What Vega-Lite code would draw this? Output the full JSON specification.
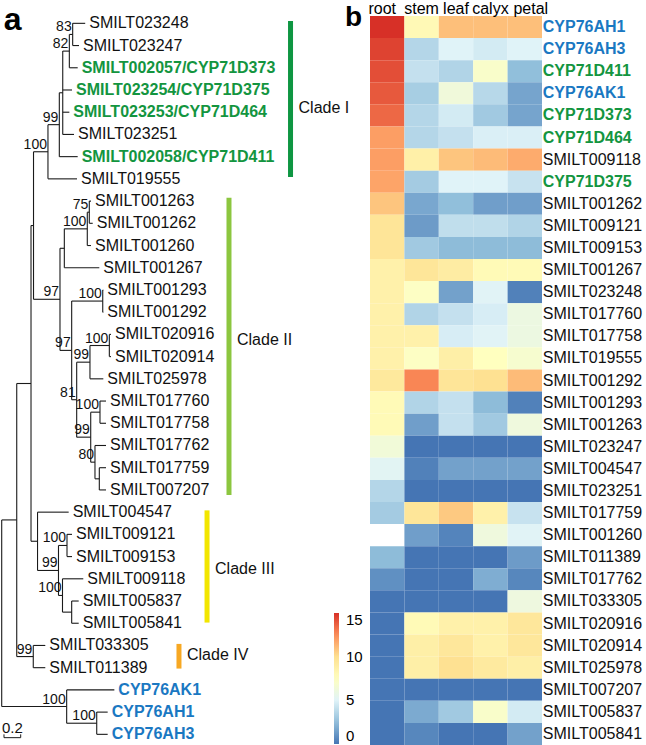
{
"$schema":"https://vega.github.io/schema/vega-lite/v6.json",
"padding":0,
"bounds":"flush",
"spacing":70,
"config":{"font":"Liberation Sans","view":{"stroke":null}},
"resolve":{"scale":{"color":"independent"},"legend":{"color":"independent"}},
"datasets":{
"branches":[
{"x":0,"x2":0,"y":22.35,"y2":30.75},{"x":0,"x2":0.18,"y":22.35,"y2":22.35},{"x":0,"x2":0.778,"y":30.75,"y2":30.75},
{"x":0.18,"x2":0.18,"y":16.21,"y2":28.5},{"x":0.18,"x2":0.351,"y":16.21,"y2":16.21},{"x":0.18,"x2":0.378,"y":28.5,"y2":28.5},
{"x":0.351,"x2":0.351,"y":9.1,"y2":23.31},{"x":0.351,"x2":0.381,"y":9.1,"y2":9.1},{"x":0.351,"x2":0.429,"y":23.31,"y2":23.31},
{"x":0.381,"x2":0.381,"y":5.78,"y2":12.42},{"x":0.381,"x2":0.554,"y":5.78,"y2":5.78},{"x":0.381,"x2":0.698,"y":12.42,"y2":12.42},
{"x":0.554,"x2":0.554,"y":4.56,"y2":7},{"x":0.554,"x2":0.69,"y":4.56,"y2":4.56},{"x":0.554,"x2":0.902,"y":7,"y2":7},
{"x":0.69,"x2":0.69,"y":3.125,"y2":6},{"x":0.69,"x2":0.731,"y":3.125,"y2":3.125},{"x":0.69,"x2":0.91,"y":6,"y2":6},
{"x":0.731,"x2":0.731,"y":1.25,"y2":5},{"x":0.731,"x2":0.81,"y":1.25,"y2":1.25},{"x":0.731,"x2":0.842,"y":3,"y2":3},{"x":0.731,"x2":0.81,"y":4,"y2":4},{"x":0.731,"x2":0.866,"y":5,"y2":5},
{"x":0.81,"x2":0.81,"y":0.5,"y2":2},{"x":0.81,"x2":0.85,"y":0.5,"y2":0.5},{"x":0.81,"x2":0.91,"y":2,"y2":2},
{"x":0.85,"x2":0.85,"y":0,"y2":1},{"x":0.85,"x2":1.0,"y":0,"y2":0},{"x":0.85,"x2":0.926,"y":1,"y2":1},
{"x":0.698,"x2":0.698,"y":10.125,"y2":14.72},{"x":0.698,"x2":0.75,"y":10.125,"y2":10.125},{"x":0.698,"x2":0.838,"y":14.72,"y2":14.72},
{"x":0.75,"x2":0.75,"y":9.25,"y2":11},{"x":0.75,"x2":1.025,"y":9.25,"y2":9.25},{"x":0.75,"x2":1.169,"y":11,"y2":11},
{"x":1.025,"x2":1.025,"y":8.5,"y2":10},{"x":1.025,"x2":1.049,"y":8.5,"y2":8.5},{"x":1.025,"x2":1.069,"y":10,"y2":10},
{"x":1.049,"x2":1.049,"y":8,"y2":9},{"x":1.049,"x2":1.069,"y":8,"y2":8},{"x":1.049,"x2":1.09,"y":9,"y2":9},
{"x":0.838,"x2":0.838,"y":12.5,"y2":16.94},{"x":0.838,"x2":1.21,"y":12.5,"y2":12.5},{"x":0.838,"x2":0.898,"y":16.94,"y2":16.94},
{"x":1.21,"x2":1.21,"y":12,"y2":13},{"x":1.21,"x2":1.217,"y":12,"y2":12},{"x":1.21,"x2":1.217,"y":13,"y2":13},
{"x":0.898,"x2":0.898,"y":15.25,"y2":18.625},{"x":0.898,"x2":1.057,"y":15.25,"y2":15.25},{"x":0.898,"x2":1.066,"y":18.625,"y2":18.625},
{"x":1.057,"x2":1.057,"y":14.5,"y2":16},{"x":1.057,"x2":1.289,"y":14.5,"y2":14.5},{"x":1.057,"x2":1.217,"y":16,"y2":16},
{"x":1.289,"x2":1.289,"y":14,"y2":15},{"x":1.289,"x2":1.309,"y":14,"y2":14},{"x":1.289,"x2":1.309,"y":15,"y2":15},
{"x":1.066,"x2":1.066,"y":17.5,"y2":19.75},{"x":1.066,"x2":1.177,"y":17.5,"y2":17.5},{"x":1.066,"x2":1.117,"y":19.75,"y2":19.75},
{"x":1.177,"x2":1.177,"y":17,"y2":18},{"x":1.177,"x2":1.249,"y":17,"y2":17},{"x":1.177,"x2":1.249,"y":18,"y2":18},
{"x":1.117,"x2":1.117,"y":19,"y2":20.5},{"x":1.117,"x2":1.249,"y":19,"y2":19},{"x":1.117,"x2":1.169,"y":20.5,"y2":20.5},
{"x":1.169,"x2":1.169,"y":20,"y2":21},{"x":1.169,"x2":1.249,"y":20,"y2":20},{"x":1.169,"x2":1.249,"y":21,"y2":21},
{"x":0.429,"x2":0.429,"y":22,"y2":24.625},{"x":0.429,"x2":0.802,"y":22,"y2":22},{"x":0.429,"x2":0.68,"y":24.625,"y2":24.625},
{"x":0.68,"x2":0.68,"y":23.5,"y2":25.75},{"x":0.68,"x2":0.782,"y":23.5,"y2":23.5},{"x":0.68,"x2":0.728,"y":25.75,"y2":25.75},
{"x":0.782,"x2":0.782,"y":23,"y2":24},{"x":0.782,"x2":0.842,"y":23,"y2":23},{"x":0.782,"x2":0.842,"y":24,"y2":24},
{"x":0.728,"x2":0.728,"y":25,"y2":26.5},{"x":0.728,"x2":0.977,"y":25,"y2":25},{"x":0.728,"x2":0.838,"y":26.5,"y2":26.5},
{"x":0.838,"x2":0.838,"y":26,"y2":27},{"x":0.838,"x2":0.922,"y":26,"y2":26},{"x":0.838,"x2":0.922,"y":27,"y2":27},
{"x":0.378,"x2":0.378,"y":28,"y2":29},{"x":0.378,"x2":0.522,"y":28,"y2":28},{"x":0.378,"x2":0.522,"y":29,"y2":29},
{"x":0.778,"x2":0.778,"y":30,"y2":31.5},{"x":0.778,"x2":1.349,"y":30,"y2":30},{"x":0.778,"x2":1.138,"y":31.5,"y2":31.5},
{"x":1.138,"x2":1.138,"y":31,"y2":32},{"x":1.138,"x2":1.269,"y":31,"y2":31},{"x":1.138,"x2":1.269,"y":32,"y2":32}
],
"tips":[
{"name":"SMILT023248","x":1.0,"y":0},{"name":"SMILT023247","x":0.926,"y":1},
{"name":"SMILT002057/CYP71D373","x":0.91,"y":2},{"name":"SMILT023254/CYP71D375","x":0.842,"y":3},
{"name":"SMILT023253/CYP71D464","x":0.81,"y":4},{"name":"SMILT023251","x":0.866,"y":5},
{"name":"SMILT002058/CYP71D411","x":0.91,"y":6},{"name":"SMILT019555","x":0.902,"y":7},
{"name":"SMILT001263","x":1.069,"y":8},{"name":"SMILT001262","x":1.09,"y":9},
{"name":"SMILT001260","x":1.069,"y":10},{"name":"SMILT001267","x":1.169,"y":11},
{"name":"SMILT001293","x":1.217,"y":12},{"name":"SMILT001292","x":1.217,"y":13},
{"name":"SMILT020916","x":1.309,"y":14},{"name":"SMILT020914","x":1.309,"y":15},
{"name":"SMILT025978","x":1.217,"y":16},{"name":"SMILT017760","x":1.249,"y":17},
{"name":"SMILT017758","x":1.249,"y":18},{"name":"SMILT017762","x":1.249,"y":19},
{"name":"SMILT017759","x":1.249,"y":20},{"name":"SMILT007207","x":1.249,"y":21},
{"name":"SMILT004547","x":0.802,"y":22},{"name":"SMILT009121","x":0.842,"y":23},
{"name":"SMILT009153","x":0.842,"y":24},{"name":"SMILT009118","x":0.977,"y":25},
{"name":"SMILT005837","x":0.922,"y":26},{"name":"SMILT005841","x":0.922,"y":27},
{"name":"SMILT033305","x":0.522,"y":28},{"name":"SMILT011389","x":0.522,"y":29},
{"name":"CYP76AK1","x":1.349,"y":30},{"name":"CYP76AH1","x":1.269,"y":31},{"name":"CYP76AH3","x":1.269,"y":32}
],
"boot":[
{"x":0.85,"y":0.5,"t":"83"},{"x":0.81,"y":1.25,"t":"82"},{"x":0.69,"y":4.5625,"t":"99"},{"x":0.554,"y":5.78,"t":"100"},
{"x":1.049,"y":8.5,"t":"75"},{"x":1.025,"y":9.25,"t":"100"},{"x":0.698,"y":12.42,"t":"97"},{"x":1.21,"y":12.5,"t":"100"},
{"x":1.289,"y":14.5,"t":"100"},{"x":1.057,"y":15.25,"t":"99"},{"x":0.838,"y":14.72,"t":"97"},{"x":0.898,"y":16.94,"t":"81"},
{"x":1.066,"y":18.625,"t":"99"},{"x":1.177,"y":17.5,"t":"100"},{"x":1.117,"y":19.75,"t":"80"},
{"x":0.68,"y":24.625,"t":"99"},{"x":0.782,"y":23.5,"t":"100"},{"x":0.728,"y":25.75,"t":"100"},
{"x":0.378,"y":28.5,"t":"99"},{"x":0.778,"y":30.75,"t":"100"},{"x":1.138,"y":31.5,"t":"100"}
],
"clades":[
{"clade":"Clade I","x":3.459,"y":-0.1,"y2":6.92,"ly":3.81},
{"clade":"Clade II","x":2.722,"y":7.85,"y2":21.23,"ly":14.25},
{"clade":"Clade III","x":2.459,"y":21.92,"y2":26.97,"ly":24.57},
{"clade":"Clade IV","x":2.123,"y":27.93,"y2":29.04,"ly":28.43}
],
"heat":[
{"gene":"CYP76AH1","tissue":"root","value":15},{"gene":"CYP76AH1","tissue":"stem","value":8},{"gene":"CYP76AH1","tissue":"leaf","value":11},{"gene":"CYP76AH1","tissue":"calyx","value":11},{"gene":"CYP76AH1","tissue":"petal","value":11},
{"gene":"CYP76AH3","tissue":"root","value":14.5},{"gene":"CYP76AH3","tissue":"stem","value":3.6},{"gene":"CYP76AH3","tissue":"leaf","value":5},{"gene":"CYP76AH3","tissue":"calyx","value":4.6},{"gene":"CYP76AH3","tissue":"petal","value":5},
{"gene":"CYP71D411","tissue":"root","value":14.2},{"gene":"CYP71D411","tissue":"stem","value":4.1},{"gene":"CYP71D411","tissue":"leaf","value":3.5},{"gene":"CYP71D411","tissue":"calyx","value":7},{"gene":"CYP71D411","tissue":"petal","value":2.5},
{"gene":"CYP76AK1","tissue":"root","value":13.9},{"gene":"CYP76AK1","tissue":"stem","value":3.2},{"gene":"CYP76AK1","tissue":"leaf","value":6.3},{"gene":"CYP76AK1","tissue":"calyx","value":3.7},{"gene":"CYP76AK1","tissue":"petal","value":1.6},
{"gene":"CYP71D373","tissue":"root","value":13.5},{"gene":"CYP71D373","tissue":"stem","value":3.6},{"gene":"CYP71D373","tissue":"leaf","value":4.6},{"gene":"CYP71D373","tissue":"calyx","value":3},{"gene":"CYP71D373","tissue":"petal","value":1.6},
{"gene":"CYP71D464","tissue":"root","value":12},{"gene":"CYP71D464","tissue":"stem","value":3.6},{"gene":"CYP71D464","tissue":"leaf","value":4.1},{"gene":"CYP71D464","tissue":"calyx","value":4.8},{"gene":"CYP71D464","tissue":"petal","value":4.8},
{"gene":"SMILT009118","tissue":"root","value":12},{"gene":"SMILT009118","tissue":"stem","value":8.7},{"gene":"SMILT009118","tissue":"leaf","value":10.8},{"gene":"SMILT009118","tissue":"calyx","value":11.1},{"gene":"SMILT009118","tissue":"petal","value":11.6},
{"gene":"CYP71D375","tissue":"root","value":11.8},{"gene":"CYP71D375","tissue":"stem","value":3.1},{"gene":"CYP71D375","tissue":"leaf","value":5},{"gene":"CYP71D375","tissue":"calyx","value":5},{"gene":"CYP71D375","tissue":"petal","value":4.2},
{"gene":"SMILT001262","tissue":"root","value":10.8},{"gene":"SMILT001262","tissue":"stem","value":1.7},{"gene":"SMILT001262","tissue":"leaf","value":2.5},{"gene":"SMILT001262","tissue":"calyx","value":1.4},{"gene":"SMILT001262","tissue":"petal","value":1.4},
{"gene":"SMILT009121","tissue":"root","value":9.6},{"gene":"SMILT009121","tissue":"stem","value":1.3},{"gene":"SMILT009121","tissue":"leaf","value":4},{"gene":"SMILT009121","tissue":"calyx","value":4},{"gene":"SMILT009121","tissue":"petal","value":3.5},
{"gene":"SMILT009153","tissue":"root","value":9.6},{"gene":"SMILT009153","tissue":"stem","value":3},{"gene":"SMILT009153","tissue":"leaf","value":2.4},{"gene":"SMILT009153","tissue":"calyx","value":2.4},{"gene":"SMILT009153","tissue":"petal","value":2.4},
{"gene":"SMILT001267","tissue":"root","value":8.6},{"gene":"SMILT001267","tissue":"stem","value":9.5},{"gene":"SMILT001267","tissue":"leaf","value":9},{"gene":"SMILT001267","tissue":"calyx","value":7.9},{"gene":"SMILT001267","tissue":"petal","value":7.9},
{"gene":"SMILT023248","tissue":"root","value":8.6},{"gene":"SMILT023248","tissue":"stem","value":7.3},{"gene":"SMILT023248","tissue":"leaf","value":1.5},{"gene":"SMILT023248","tissue":"calyx","value":5.1},{"gene":"SMILT023248","tissue":"petal","value":0.4},
{"gene":"SMILT017760","tissue":"root","value":8.6},{"gene":"SMILT017760","tissue":"stem","value":3.5},{"gene":"SMILT017760","tissue":"leaf","value":4.1},{"gene":"SMILT017760","tissue":"calyx","value":4.7},{"gene":"SMILT017760","tissue":"petal","value":6},
{"gene":"SMILT017758","tissue":"root","value":8.6},{"gene":"SMILT017758","tissue":"stem","value":8.6},{"gene":"SMILT017758","tissue":"leaf","value":4.7},{"gene":"SMILT017758","tissue":"calyx","value":5.1},{"gene":"SMILT017758","tissue":"petal","value":6},
{"gene":"SMILT019555","tissue":"root","value":8.6},{"gene":"SMILT019555","tissue":"stem","value":7.3},{"gene":"SMILT019555","tissue":"leaf","value":8.8},{"gene":"SMILT019555","tissue":"calyx","value":7.5},{"gene":"SMILT019555","tissue":"petal","value":6.8},
{"gene":"SMILT001292","tissue":"root","value":9.3},{"gene":"SMILT001292","tissue":"stem","value":12.7},{"gene":"SMILT001292","tissue":"leaf","value":9.6},{"gene":"SMILT001292","tissue":"calyx","value":9.9},{"gene":"SMILT001292","tissue":"petal","value":11.1},
{"gene":"SMILT001293","tissue":"root","value":7.9},{"gene":"SMILT001293","tissue":"stem","value":3.5},{"gene":"SMILT001293","tissue":"leaf","value":4.1},{"gene":"SMILT001293","tissue":"calyx","value":2.4},{"gene":"SMILT001293","tissue":"petal","value":0.4},
{"gene":"SMILT001263","tissue":"root","value":7.9},{"gene":"SMILT001263","tissue":"stem","value":1.4},{"gene":"SMILT001263","tissue":"leaf","value":4.1},{"gene":"SMILT001263","tissue":"calyx","value":3},{"gene":"SMILT001263","tissue":"petal","value":6.2},
{"gene":"SMILT023247","tissue":"root","value":6.4},{"gene":"SMILT023247","tissue":"stem","value":0},{"gene":"SMILT023247","tissue":"leaf","value":0},{"gene":"SMILT023247","tissue":"calyx","value":0},{"gene":"SMILT023247","tissue":"petal","value":0},
{"gene":"SMILT004547","tissue":"root","value":5.2},{"gene":"SMILT004547","tissue":"stem","value":0.4},{"gene":"SMILT004547","tissue":"leaf","value":1.5},{"gene":"SMILT004547","tissue":"calyx","value":1.5},{"gene":"SMILT004547","tissue":"petal","value":1.5},
{"gene":"SMILT023251","tissue":"root","value":3.6},{"gene":"SMILT023251","tissue":"stem","value":0},{"gene":"SMILT023251","tissue":"leaf","value":0},{"gene":"SMILT023251","tissue":"calyx","value":0},{"gene":"SMILT023251","tissue":"petal","value":0},
{"gene":"SMILT017759","tissue":"root","value":3.1},{"gene":"SMILT017759","tissue":"stem","value":9.5},{"gene":"SMILT017759","tissue":"leaf","value":10.7},{"gene":"SMILT017759","tissue":"calyx","value":8.6},{"gene":"SMILT017759","tissue":"petal","value":4.2},
{"gene":"SMILT001260","tissue":"stem","value":1.4},{"gene":"SMILT001260","tissue":"leaf","value":0.5},{"gene":"SMILT001260","tissue":"calyx","value":6.2},{"gene":"SMILT001260","tissue":"petal","value":5.1},
{"gene":"SMILT011389","tissue":"root","value":2.4},{"gene":"SMILT011389","tissue":"stem","value":0},{"gene":"SMILT011389","tissue":"leaf","value":0},{"gene":"SMILT011389","tissue":"calyx","value":0},{"gene":"SMILT011389","tissue":"petal","value":1.3},
{"gene":"SMILT017762","tissue":"root","value":0.9},{"gene":"SMILT017762","tissue":"stem","value":0},{"gene":"SMILT017762","tissue":"leaf","value":0},{"gene":"SMILT017762","tissue":"calyx","value":1.9},{"gene":"SMILT017762","tissue":"petal","value":0.6},
{"gene":"SMILT033305","tissue":"root","value":0},{"gene":"SMILT033305","tissue":"stem","value":0},{"gene":"SMILT033305","tissue":"leaf","value":0},{"gene":"SMILT033305","tissue":"calyx","value":0},{"gene":"SMILT033305","tissue":"petal","value":6.1},
{"gene":"SMILT020916","tissue":"root","value":0},{"gene":"SMILT020916","tissue":"stem","value":7.9},{"gene":"SMILT020916","tissue":"leaf","value":8.6},{"gene":"SMILT020916","tissue":"calyx","value":8.6},{"gene":"SMILT020916","tissue":"petal","value":9.4},
{"gene":"SMILT020914","tissue":"root","value":0},{"gene":"SMILT020914","tissue":"stem","value":8.8},{"gene":"SMILT020914","tissue":"leaf","value":9.4},{"gene":"SMILT020914","tissue":"calyx","value":8.6},{"gene":"SMILT020914","tissue":"petal","value":9.4},
{"gene":"SMILT025978","tissue":"root","value":0},{"gene":"SMILT025978","tissue":"stem","value":8.8},{"gene":"SMILT025978","tissue":"leaf","value":9.9},{"gene":"SMILT025978","tissue":"calyx","value":9.2},{"gene":"SMILT025978","tissue":"petal","value":8.8},
{"gene":"SMILT007207","tissue":"root","value":0},{"gene":"SMILT007207","tissue":"stem","value":0},{"gene":"SMILT007207","tissue":"leaf","value":0},{"gene":"SMILT007207","tissue":"calyx","value":0},{"gene":"SMILT007207","tissue":"petal","value":0},
{"gene":"SMILT005837","tissue":"root","value":0},{"gene":"SMILT005837","tissue":"stem","value":1.8},{"gene":"SMILT005837","tissue":"leaf","value":3},{"gene":"SMILT005837","tissue":"calyx","value":7},{"gene":"SMILT005837","tissue":"petal","value":4.6},
{"gene":"SMILT005841","tissue":"root","value":0},{"gene":"SMILT005841","tissue":"stem","value":0.6},{"gene":"SMILT005841","tissue":"leaf","value":0},{"gene":"SMILT005841","tissue":"calyx","value":0},{"gene":"SMILT005841","tissue":"petal","value":1.5}
]
},
"hconcat":[
{
"width":300,"height":729,
"encoding":{
"x":{"field":"x","type":"quantitative","scale":{"domain":[-0.0204,3.5724],"nice":false,"zero":false},"axis":null},
"y":{"field":"y","type":"quantitative","scale":{"domain":[-0.33,32.48],"nice":false,"zero":false,"reverse":true},"axis":null}
},
"layer":[
{"data":{"name":"branches"},"mark":{"type":"rule","color":"#1a1a1a","strokeWidth":1.1},"encoding":{"x2":{"field":"x2"},"y2":{"field":"y2"}}},
{"data":{"name":"clades"},"mark":{"type":"rule","strokeWidth":5},"encoding":{"y2":{"field":"y2"},"color":{"field":"clade","type":"nominal","scale":{"domain":["Clade I","Clade II","Clade III","Clade IV"],"range":["#0e9642","#8cc63f","#f2e600","#f7a823"]},"legend":null}}},
{"data":{"name":"clades"},"mark":{"type":"text","align":"left","baseline":"middle","dx":8,"fontSize":16,"color":"#111"},"encoding":{"y":{"field":"ly","type":"quantitative","scale":{"domain":[-0.33,32.48],"nice":false,"zero":false,"reverse":true},"axis":null},"text":{"field":"clade"}}},
{"data":{"name":"tips"},"transform":[{"filter":"indexof(datum.name,'CYP')<0"}],"mark":{"type":"text","align":"left","baseline":"middle","dx":4,"fontSize":16,"color":"#111"},"encoding":{"text":{"field":"name"}}},
{"data":{"name":"tips"},"transform":[{"filter":"indexof(datum.name,'CYP')>=0"}],"mark":{"type":"text","align":"left","baseline":"middle","dx":4,"fontSize":16,"fontWeight":"bold"},"encoding":{"text":{"field":"name"},"color":{"condition":{"test":"indexof(datum.name,'CYP76')>=0","value":"#1a78c2"},"value":"#13953f"}}},
{"data":{"name":"boot"},"mark":{"type":"text","align":"right","baseline":"middle","dx":-1,"dy":-7,"fontSize":14,"color":"#111"},"encoding":{"text":{"field":"t"}}},
{"data":{"values":[{"x":0.0275,"x2":0.2275,"y":32.15,"y2":32.15},{"x":0.0275,"x2":0.0275,"y":32.0,"y2":32.15},{"x":0.2275,"x2":0.2275,"y":32.0,"y2":32.15}]},"mark":{"type":"rule","color":"#1a1a1a","strokeWidth":1},"encoding":{"x2":{"field":"x2"},"y2":{"field":"y2"}}},
{"data":{"values":[{"x":0.1275,"y":32.15,"t":"0.2"}]},"mark":{"type":"text","align":"center","baseline":"middle","dy":-10,"fontSize":15,"color":"#111"},"encoding":{"text":{"field":"t"}}},
{"data":{"values":[{"x":0,"y":0,"t":"a"}]},"mark":{"type":"text","align":"left","baseline":"alphabetic","dx":2,"dy":7,"fontSize":32,"fontWeight":"bold","color":"#000"},"encoding":{"text":{"field":"t"}}},
{"data":{"values":[{"x":4.111,"y":0,"t":"b"}]},"mark":{"type":"text","align":"left","baseline":"alphabetic","dx":0,"dy":3,"fontSize":28,"fontWeight":"bold","color":"#000"},"encoding":{"text":{"field":"t"}}}
]
},
{
"width":172,"height":729,
"data":{"name":"heat"},
"encoding":{
"x":{"field":"tissue","type":"nominal","sort":["root","stem","leaf","calyx","petal"],"scale":{"paddingInner":0,"paddingOuter":0},"axis":{"orient":"top","title":null,"ticks":false,"domain":false,"labelAngle":0,"labelFontSize":16,"labelPadding":0,"labelColor":"#000","labelOffset":{"expr":"datum.value==='root' ? -5 : (datum.value==='petal' ? 6 : 0)"}}},
"y":{"field":"gene","type":"nominal","sort":["CYP76AH1","CYP76AH3","CYP71D411","CYP76AK1","CYP71D373","CYP71D464","SMILT009118","CYP71D375","SMILT001262","SMILT009121","SMILT009153","SMILT001267","SMILT023248","SMILT017760","SMILT017758","SMILT019555","SMILT001292","SMILT001293","SMILT001263","SMILT023247","SMILT004547","SMILT023251","SMILT017759","SMILT001260","SMILT011389","SMILT017762","SMILT033305","SMILT020916","SMILT020914","SMILT025978","SMILT007207","SMILT005837","SMILT005841"],"scale":{"paddingInner":0,"paddingOuter":0},"axis":null}
},
"layer":[
{"mark":{"type":"rect","strokeWidth":0},
"encoding":{"color":{"field":"value","type":"quantitative","scale":{"type":"linear","domain":[0,2.5,5,7.5,10,12.5,15],"range":["#4575b4","#91bfdb","#e0f3f8","#ffffbf","#fee090","#fc8d59","#d73027"],"interpolate":"rgb"},"legend":{"orient":"none","legendX":-36,"legendY":597,"direction":"vertical","title":null,"gradientLength":131,"gradientThickness":5,"values":[0,5,10,15],"labelFontSize":15,"labelOffset":7,"padding":0,"gradientStrokeWidth":0,"labelColor":"#000"}}}},
{"transform":[{"filter":"datum.tissue==='petal' && indexof(datum.gene,'CYP')<0"}],"mark":{"type":"text","align":"left","baseline":"middle","dx":18,"fontSize":16,"color":"#111"},"encoding":{"text":{"field":"gene"}}},
{"transform":[{"filter":"datum.tissue==='petal' && indexof(datum.gene,'CYP')>=0"}],"mark":{"type":"text","align":"left","baseline":"middle","dx":18,"fontSize":16,"fontWeight":"bold"},"encoding":{"text":{"field":"gene"},"color":{"condition":{"test":"indexof(datum.gene,'CYP76')>=0","value":"#1a78c2"},"value":"#13953f"}}}
]
}
]
}
